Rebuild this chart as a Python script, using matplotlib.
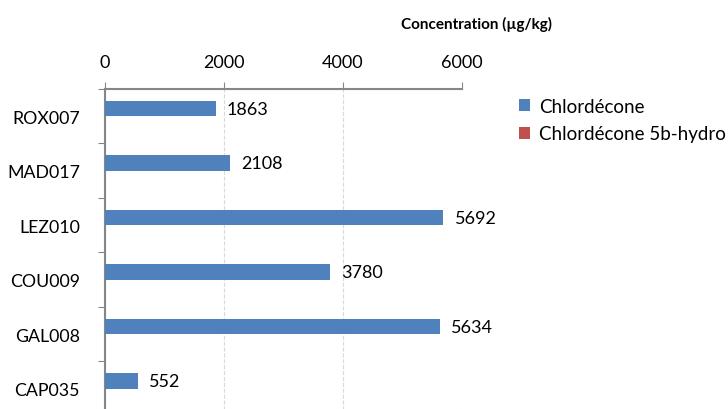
import numpy as np
import matplotlib
matplotlib.use("Agg")
import matplotlib.pyplot as plt

sites = ['ROX007', 'MAD017', 'LEZ010', 'COU009', 'GAL008', 'CAP035']
chlordecone = [1863, 2108, 5692, 3780, 5634, 552]
chlordecone_5b = [0, 0, 0, 0, 0, 0]
x_ticks = [0, 2000, 4000, 6000]

plt.rcParams['font.family'] = ['Lato', 'DejaVu Sans']

fig = plt.figure(figsize=(7.28, 4.10), dpi=100)
ax = fig.add_axes([0.1442, -0.017, 0.4898, 0.7975])

y = np.arange(len(sites))
h = 0.28
ax.barh(y - h / 2, chlordecone, height=h, color='#4f81bd', label='Chlordécone', zorder=3)
ax.barh(y + h / 2, chlordecone_5b, height=h, color='#c0504d', label='Chlordécone 5b-hydro', zorder=3)

# étiquettes de valeurs à droite des barres
for yi, v in zip(y, chlordecone):
    ax.text(v + 190, yi - h / 2, str(v), va='center', ha='left', fontsize=13, color='black')

ax.set_ylim(len(sites) - 0.5, -0.5)
ax.set_xlim(0, 6000)
ax.set_yticks(np.arange(len(sites) + 1) - 0.5, minor=False)
ax.set_yticklabels([])
ax.set_yticks(y, minor=True)
ax.set_yticklabels(sites, minor=True, fontsize=12.8)
ax.tick_params(axis='y', which='minor', length=0, pad=18)
ax.tick_params(axis='y', which='major', length=5, color='#868686')

ax.xaxis.tick_top()
ax.set_xticks(x_ticks)
ax.set_xticklabels([str(t) for t in x_ticks], fontsize=13)
ax.tick_params(axis='x', length=5, color='#868686', pad=9)
ax.grid(axis='x', linestyle='--', color='#d9d9d9', linewidth=0.8, zorder=0)

for s in ['right', 'bottom']:
    ax.spines[s].set_visible(False)
for s in ['top', 'left']:
    ax.spines[s].set_color('#868686')
    ax.spines[s].set_linewidth(1.5)

fig.text(0.6545, 0.94, 'Concentration (µg/kg)', ha='center', va='center', fontsize=11, fontweight='bold')

fig.legend(loc='upper left', bbox_to_anchor=(0.69, 0.80), frameon=False, fontsize=13.5,
           handlelength=0.6, handleheight=0.6, handletextpad=0.45, labelspacing=0.55)

fig.savefig('out.png', dpi=100)
